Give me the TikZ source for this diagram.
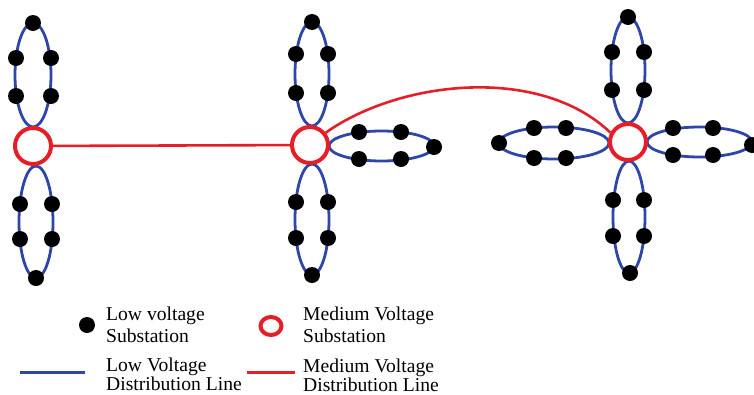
\documentclass[tikz,border=0pt]{standalone}
\usepackage{fontspec}
\setmainfont{Liberation Serif}
\usetikzlibrary{shapes.geometric}
\definecolor{lvblue}{RGB}{45,70,170}
\definecolor{mvred}{RGB}{230,30,40}
\begin{document}
\begin{tikzpicture}[x=1pt,y=-1pt,
  lvline/.style={draw=lvblue,line width=2.8pt},
  lvsub/.style={circle,fill=black,inner sep=0pt,minimum size=16pt},
  mvsub/.style={circle,draw=mvred,line width=4pt,fill=white,inner sep=0pt,minimum size=36pt},
  mvline/.style={draw=mvred,line width=2.6pt},
  legtext/.style={anchor=base west,inner sep=0pt,font=\fontsize{19.6}{21}\selectfont}]
\useasboundingbox (0,0) rectangle (754,394);

% ---------- low voltage loops ----------
\draw[lvline] (33,75) ellipse [x radius=18, y radius=52];
\draw[lvline] (36,222) ellipse [x radius=17, y radius=56];
\draw[lvline] (312,74) ellipse [x radius=17, y radius=52];
\draw[lvline] (312,219.5) ellipse [x radius=17, y radius=55.5];
\draw[lvline] (381.5,146) ellipse [x radius=52.5, y radius=15];
\draw[lvline] (628,70) ellipse [x radius=17, y radius=53];
\draw[lvline] (629,217) ellipse [x radius=16, y radius=56];
\draw[lvline] (554,143) ellipse [x radius=55, y radius=16];
\draw[lvline] (699.5,142) ellipse [x radius=52.5, y radius=15];

% ---------- medium voltage substations ----------
\node[mvsub] (L) at (33,146) {};
\node[mvsub] (M) at (310,145) {};
\node[mvsub] (R) at (628,142) {};

% ---------- medium voltage lines ----------
\draw[mvline] (L) -- (M);
\draw[mvline] (M.38) .. controls (400,80) and (540,65) .. (R.152);

% ---------- low voltage substations ----------
% left cluster
\node[lvsub] (lt1) at (33,23) {};
\node[lvsub] (lt2) at (16,58) {};
\node[lvsub] (lt3) at (51,58) {};
\node[lvsub] (lt4) at (16,96) {};
\node[lvsub] (lt5) at (51,96) {};
\node[lvsub] (lb1) at (20,204) {};
\node[lvsub] (lb2) at (52,204) {};
\node[lvsub] (lb3) at (20,239) {};
\node[lvsub] (lb4) at (52,239) {};
\node[lvsub] (lb5) at (36,278) {};
% middle cluster
\node[lvsub] (mt1) at (312,22) {};
\node[lvsub] (mt2) at (296,54) {};
\node[lvsub] (mt3) at (328,54) {};
\node[lvsub] (mt4) at (296,93) {};
\node[lvsub] (mt5) at (328,93) {};
\node[lvsub] (mb1) at (296,202) {};
\node[lvsub] (mb2) at (328,202) {};
\node[lvsub] (mb3) at (296,238) {};
\node[lvsub] (mb4) at (328,238) {};
\node[lvsub] (mb5) at (312,275) {};
\node[lvsub] (mr1) at (359,132) {};
\node[lvsub] (mr2) at (401,132) {};
\node[lvsub] (mr3) at (359,159) {};
\node[lvsub] (mr4) at (401,159) {};
\node[lvsub] (mr5) at (434,147) {};
% right cluster
\node[lvsub] (rt1) at (628,17) {};
\node[lvsub] (rt2) at (612,52) {};
\node[lvsub] (rt3) at (644,52) {};
\node[lvsub] (rt4) at (612,90) {};
\node[lvsub] (rt5) at (644,90) {};
\node[lvsub] (rb1) at (613,200) {};
\node[lvsub] (rb2) at (644,200) {};
\node[lvsub] (rb3) at (613,236) {};
\node[lvsub] (rb4) at (644,236) {};
\node[lvsub] (rb5) at (630,273) {};
\node[lvsub] (rl1) at (499,143) {};
\node[lvsub] (rl2) at (534,128) {};
\node[lvsub] (rl3) at (566,128) {};
\node[lvsub] (rl4) at (534,158) {};
\node[lvsub] (rl5) at (566,158) {};
\node[lvsub] (rr1) at (673,128) {};
\node[lvsub] (rr2) at (713,128) {};
\node[lvsub] (rr3) at (673,155) {};
\node[lvsub] (rr4) at (713,155) {};
\node[lvsub] (rr5) at (752,145) {};

% ---------- legend ----------
\node[lvsub] (legdot) at (87,325) {};
\node[ellipse,draw=mvred,line width=4pt,inner sep=0pt,minimum width=21pt,minimum height=18pt] (legring) at (271,326) {};
\coordinate (lb) at (20,372);
\coordinate (le) at (85,372);
\draw[lvline,line width=3pt] (lb) -- (le);
\coordinate (mb) at (247,372);
\coordinate (me) at (295,372);
\draw[mvline,line width=3pt] (mb) -- (me);

\node[legtext] (t1a) at (106,320) {Low voltage};
\node[legtext] (t1b) at (106,342) {Substation};
\node[legtext] (t2a) at (303,320) {Medium Voltage};
\node[legtext] (t2b) at (303,342) {Substation};
\node[legtext] (t3a) at (106,371) {Low Voltage};
\node[legtext] (t3b) at (106,390) {Distribution Line};
\node[legtext] (t4a) at (303,372) {Medium Voltage};
\node[legtext] (t4b) at (303,391) {Distribution Line};
\end{tikzpicture}
\end{document}
